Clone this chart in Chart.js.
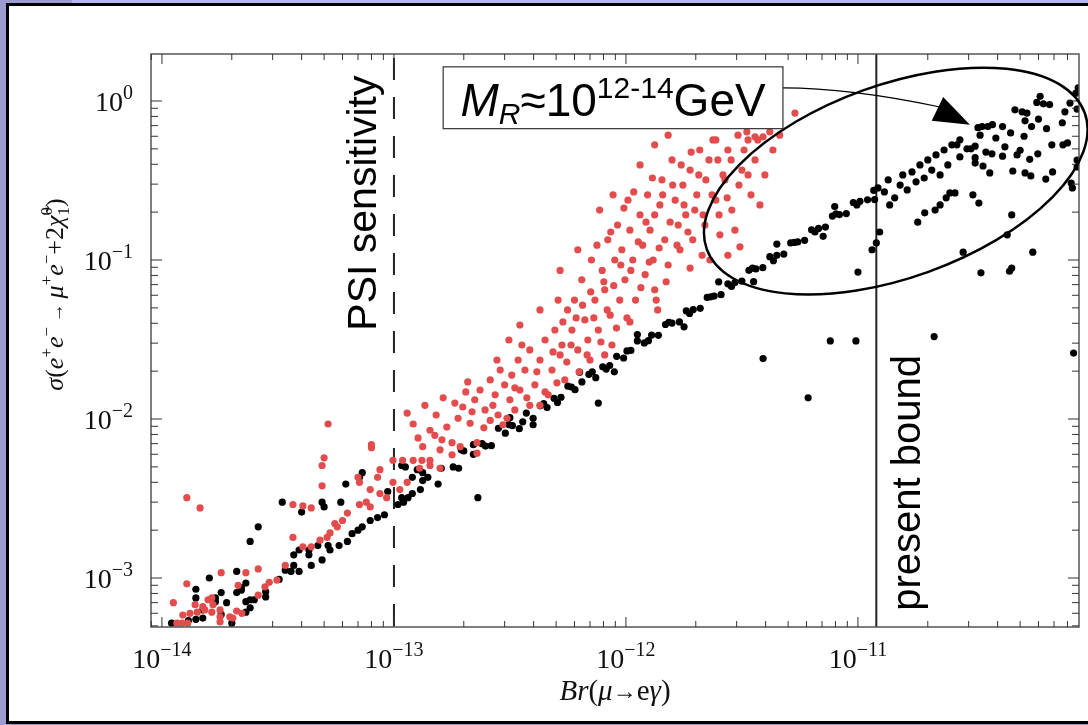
<!DOCTYPE html>
<html>
<head>
<meta charset="utf-8">
<script src="https://cdn.jsdelivr.net/npm/chart.js@4.4.0/dist/chart.umd.min.js"></script>
<style>
  body { margin: 0; width: 1088px; height: 725px; overflow: hidden; background: #9c9cd0; position: relative; }
  #strip { position: absolute; left: 72px; top: 0; width: 1016px; height: 4px; background: #b6b6f0; }
  #panel { position: absolute; left: 6px; top: 3px; width: 1100px; height: 715px; background: #fff; border: 3px solid #000; }
  #wrap { position: absolute; left: 0; top: 0; width: 1088px; height: 725px; }
</style>
</head>
<body>
<div id="strip"></div>
<div id="panel"></div>
<div id="wrap"><canvas id="myChart"></canvas></div>
<script>
// axis ranges and ticks
const brMin = 8.97e-15, brMax = 8.97e-11;
const sigmaMin = 4.92e-4, sigmaMax = 1.975;
const xDecades = [1e-14, 1e-13, 1e-12, 1e-11];
const xExponents = ['\u221214', '\u221213', '\u221212', '\u221211'];
const yDecades = [1, 0.1, 0.01, 0.001];
const yExponents = ['0', '\u22121', '\u22122', '\u22123'];

// vertical reference lines
const psiLimit = 1e-13;
const presentBound = 1.2e-11;

// black points [Br, sigma]
const blackPoints = [
  [2.4e-14,1.7e-3],[1.6e-14,1.0e-3],[2.1e-14,1.1e-3],[2.3e-14,9.3e-4],[1.4e-14,8.5e-4],[1.8e-14,8.1e-4],[2.2e-14,8.4e-4],
  [1.4e-14,7.5e-4],[1.7e-14,7.1e-4],[1.9e-14,7.0e-4],[2.3e-14,7.1e-4],[2.4e-14,7.3e-4],[2.4e-14,6.5e-4],[2.3e-14,6.1e-4],
  [1.5e-14,5.6e-4],[1.3e-14,5.4e-4],[1.1e-14,5.2e-4],[2.0e-14,5.2e-4],[1.8e-14,5.9e-4],[1.4e-14,5.5e-4],
  [3.3e-14,3.0e-3],[2.6e-14,2.1e-3],[4.0e-14,2.6e-3],[4.9e-14,3.0e-3],[5.0e-14,2.8e-3],[5.9e-14,3.0e-3],[6.2e-14,3.9e-3],
  [7.3e-14,4.6e-3],[7.1e-14,4.3e-3],[9.4e-14,3.5e-3],[9.1e-14,2.5e-3],[8.5e-14,2.4e-3],[7.9e-14,2.3e-3],[7.3e-14,2.1e-3],
  [7.0e-14,2.0e-3],[6.6e-14,1.9e-3],[6.3e-14,1.7e-3],[5.8e-14,1.6e-3],[5.3e-14,1.5e-3],[5.2e-14,1.6e-3],[4.7e-14,1.6e-3],
  [4.3e-14,1.5e-3],[4.3e-14,1.4e-3],[4.9e-14,1.3e-3],[4.4e-14,1.2e-3],[3.9e-14,1.5e-3],[3.7e-14,1.4e-3],[3.7e-14,1.2e-3],
  [3.9e-14,1.1e-3],[3.6e-14,1.1e-3],[3.4e-14,1.12e-3],[3.2e-14,9.8e-4],[2.8e-14,8.2e-4],[2.8e-14,7.6e-4],[2.5e-14,7.3e-4],
  [2.1e-14,8.1e-4],[2.2e-14,8.7e-4],[1.7e-14,7.5e-4],[1.5e-14,6.3e-4],
  [1.04e-13,2.9e-3],[1.1e-13,3.0e-3],[1.08e-13,3.2e-3],[1.15e-13,3.2e-3],[1.2e-13,3.4e-3],[1.3e-13,3.6e-3],[1.33e-13,4.1e-3],
  [1.4e-13,4.3e-3],[1.33e-13,4.6e-3],[1.2e-13,4.3e-3],[1.26e-13,4.8e-3],[1.55e-13,3.9e-3],[1.08e-13,5.1e-3],[1.12e-13,5.0e-3],
  [1.6e-13,4.9e-3],[1.8e-13,5.0e-3],[1.9e-13,4.9e-3],[2.0e-13,6.3e-3],[1.95e-13,6.4e-3],[2.2e-13,6.9e-3],[2.2e-13,6.0e-3],
  [2.3e-13,3.2e-3],
  [2.4e-13,7.0e-3],[2.63e-13,6.8e-3],[2.82e-13,8.75e-3],[3.02e-13,8.15e-3],[3.24e-13,9.1e-3],[3.47e-13,8.7e-3],[3.72e-13,1.09e-2],
  [3.98e-13,1.01e-2],[4.27e-13,1.21e-2],[4.57e-13,1.18e-2],[4.9e-13,1.35e-2],[5.25e-13,1.37e-2],[5.62e-13,1.61e-2],[6.03e-13,1.53e-2],
  [6.46e-13,1.71e-2],[6.92e-13,1.91e-2],[7.41e-13,1.82e-2],[7.94e-13,2.13e-2],[8.51e-13,2.17e-2],[9.12e-13,2.48e-2],[9.77e-13,2.42e-2],
  [1.05e-12,2.70e-2],[1.12e-12,3.10e-2],[1.20e-12,3.01e-2],[1.29e-12,3.37e-2],[1.38e-12,3.36e-2],[1.48e-12,3.93e-2],[1.58e-12,4.01e-2],
  [1.70e-12,4.08e-2],[1.82e-12,4.79e-2],[1.95e-12,4.88e-2],[2.09e-12,4.97e-2],[2.24e-12,5.82e-2],[2.40e-12,5.93e-2],[2.57e-12,6.05e-2],
  [2.75e-12,7.08e-2],[2.95e-12,7.21e-2],[3.16e-12,7.36e-2],[3.39e-12,8.61e-2],[3.63e-12,8.79e-2],[3.89e-12,8.95e-2],[4.17e-12,0.105],
  [4.47e-12,0.107],[4.79e-12,0.109],[5.13e-12,0.128],[5.50e-12,0.130],[5.89e-12,0.133],[6.31e-12,0.155],[6.76e-12,0.158],
  [7.24e-12,0.161],[7.76e-12,0.189],[8.32e-12,0.193],[8.91e-12,0.196],[9.55e-12,0.230],[1.02e-11,0.234],[1.10e-11,0.239],[1.17e-11,0.274],
  [3.16e-13,1.02e-2],[6.31e-13,1.97e-2],[1.12e-12,3.40e-2],[2.51e-12,7.28e-2],[4.47e-12,0.126],[7.94e-12,0.217],
  [3.98e-13,9.2e-3],[8.91e-13,1.98e-2],[1.78e-12,3.80e-2],[3.55e-12,7.31e-2],[7.08e-12,0.141],
  [2.48e-13,6.76e-3],[3.13e-13,9.23e-3],[3.59e-13,9.6e-3],[4.42e-13,1.25e-2],[5.07e-13,1.27e-2],[5.82e-13,1.59e-2],[7.16e-13,1.98e-2],
  [8.22e-13,2.06e-2],[1.01e-12,2.68e-2],[1.25e-12,3.11e-2],[1.53e-12,4.06e-2],[1.88e-12,4.61e-2],[2.32e-12,5.87e-2],[2.85e-12,6.82e-2],
  [3.51e-12,8.89e-2],[4.32e-12,9.89e-2],[5.31e-12,0.129],[6.53e-12,0.150],[8.04e-12,0.195],[9.89e-12,0.222],
  [7.6e-13,1.26e-2],[3.9e-12,2.4e-2],[6.1e-12,1.36e-2],[9.8e-12,3.1e-2],[7.6e-12,3.1e-2],[1.0e-11,8.4e-2],[1.2e-11,0.128],
  [1.24e-11,0.15],[1.15e-11,0.116],[2.13e-11,0.033],
  [1.18e-11,0.24],[1.22e-11,0.284],[1.3e-11,0.268],[1.35e-11,0.319],[1.37e-11,0.222],[1.44e-11,0.246],[1.52e-11,0.296],
  [1.56e-11,0.343],[1.63e-11,0.276],[1.71e-11,0.358],[1.78e-11,0.31],[1.85e-11,0.396],[1.93e-11,0.328],[2.0e-11,0.426],
  [2.08e-11,0.368],[2.17e-11,0.458],[2.26e-11,0.343],[2.35e-11,0.492],[2.44e-11,0.396],[2.54e-11,0.53],[2.15e-11,0.206],
  [1.94e-11,0.198],[1.81e-11,0.173],[2.26e-11,0.222],[2.4e-11,0.246],
  [6.1e-11,1.07],[5.9e-11,0.98],[6.3e-11,0.96],[6.7e-11,0.95],[4.75e-11,0.88],[5.1e-11,0.855],[5.35e-11,0.84],[5.25e-11,0.75],
  [6.0e-11,0.77],[5.6e-11,0.69],[6.5e-11,0.67],[7.6e-11,0.73],[7.8e-11,0.855],[8.2e-11,0.97],[8.8e-11,0.89],[8.9e-11,1.21],
  [8.7e-11,1.12],[3.43e-11,0.69],[3.63e-11,0.69],[3.8e-11,0.71],[4.2e-11,0.69],[3.29e-11,0.68],[3.36e-11,0.61],[4.55e-11,0.63],
  [3.93e-11,0.585],[5.2e-11,0.60],[2.75e-11,0.57],[2.67e-11,0.53],[2.95e-11,0.50],[3.07e-11,0.50],[3.2e-11,0.52],[3.56e-11,0.477],
  [3.78e-11,0.465],[4.3e-11,0.515],[4.2e-11,0.45],[5.0e-11,0.49],[4.85e-11,0.458],[5.5e-11,0.43],[5.96e-11,0.465],[6.85e-11,0.53],
  [7.65e-11,0.53],[8.0e-11,0.545],[2.75e-11,0.445],[3.2e-11,0.44],[3.2e-11,0.407],[3.46e-11,0.39],[3.7e-11,0.353],[4.65e-11,0.363],
  [5.25e-11,0.353],[5.56e-11,0.338],[6.45e-11,0.323],[6.9e-11,0.358],[8.3e-11,0.305],[8.4e-11,0.284],[8.8e-11,0.385],[8.8e-11,0.425],
  [2.62e-11,0.264],[2.49e-11,0.264],[3.13e-11,0.257],[3.32e-11,0.228],[4.6e-11,0.192],[4.4e-11,0.144],[2.84e-11,0.112],[5.67e-11,0.112],
  [3.39e-11,0.083],[4.5e-11,0.085],[4.6e-11,0.089],[8.5e-11,0.026]
];

// red points [Br, sigma]
const redPoints = [
  [1.8e-14,1.08e-3],[2.3e-14,1.08e-3],[2.6e-14,1.14e-3],[1.28e-14,9.2e-4],[2.13e-14,9.0e-4],[1.12e-14,7.0e-4],[1.39e-14,6.8e-4],
  [1.58e-14,7.3e-4],[1.64e-14,7.5e-4],[1.66e-14,6.8e-4],[1.53e-14,6.3e-4],[1.23e-14,5.85e-4],[1.32e-14,6.0e-4],[1.64e-14,6.1e-4],
  [1.78e-14,5.7e-4],[1.96e-14,5.7e-4],[2.1e-14,6.2e-4],[1.22e-14,5.2e-4],[1.29e-14,5.2e-4],[1.78e-14,5.3e-4],[2.21e-14,6.0e-4],
  [1.28e-14,3.2e-3],[1.46e-14,2.76e-3],[5.2e-14,9.3e-3],[8.0e-14,6.9e-3],[8.0e-14,6.6e-3],[5.0e-14,5.7e-3],[4.9e-14,5.1e-3],
  [4.9e-14,3.8e-3],[3.67e-14,2.9e-3],[4.05e-14,2.84e-3],[4.4e-14,2.76e-3],[7.0e-14,4.3e-3],[7.1e-14,4.0e-3],[7.9e-14,3.6e-3],
  [8.7e-14,3.4e-3],[8.7e-14,4.8e-3],[8.5e-14,4.3e-3],[7.6e-14,3.0e-3],[7.1e-14,2.9e-3],[7.9e-14,2.8e-3],[6.3e-14,2.56e-3],
  [6.0e-14,2.3e-3],[5.56e-14,2.2e-3],[5.3e-14,1.92e-3],[5.7e-14,2.1e-3],[5.15e-14,1.8e-3],[4.8e-14,1.73e-3],[4.4e-14,1.57e-3],
  [4.05e-14,1.57e-3],[3.67e-14,1.8e-3],[3.4e-14,1.2e-3],[3.13e-14,9.7e-4],[2.9e-14,9.4e-4],[2.78e-14,8.8e-4],[2.6e-14,7.8e-4],
  [2.02e-14,5.6e-4],[1.78e-14,6.3e-4],[1.42e-14,6.1e-4],[1.16e-14,5.2e-4],[1.5e-14,6.6e-4],
  [9.9e-14,5.5e-3],[1.14e-13,1.09e-2],[1.21e-13,9.3e-3],[1.33e-13,6.7e-3],[1.43e-13,8.5e-3],[1.5e-13,7.9e-3],[1.61e-13,7.4e-3],
  [1.63e-13,1.36e-2],[1.83e-13,1.26e-2],[1.98e-13,1.19e-2],[2.08e-13,1.71e-2],[1.58e-13,6.4e-3],[1.78e-13,7.1e-3],[1.93e-13,6.7e-3],
  [2.13e-13,9.4e-3],[2.28e-13,7.1e-3],[2.28e-13,6.1e-3],[1.43e-13,5.5e-3],[1.32e-13,5.5e-3],[1.21e-13,5.5e-3],[1.09e-13,5.5e-3],
  [1.29e-13,4.9e-3],[1.43e-13,5.1e-3],[1.58e-13,4.9e-3],[1.14e-13,4.0e-3],[9.9e-14,4.0e-3],[1.06e-13,3.6e-3],[9.3e-14,3.2e-3],
  [1.69e-13,8.9e-3],[2.04e-13,1.48e-2],[1.89e-13,1.01e-2],[2.17e-13,1.11e-2],[1.52e-13,1.06e-2],[1.36e-13,1.22e-2],[1.27e-13,7.6e-3],
  [1.78e-13,5.95e-3],
  [2.23e-13,1.32e-2],[2.35e-13,1.52e-2],[2.47e-13,1.14e-2],[2.6e-13,1.76e-2],[2.73e-13,1.42e-2],[2.87e-13,2.03e-2],[3.0e-13,1.64e-2],
  [3.16e-13,1.32e-2],[2.81e-13,1.06e-2],[3.22e-13,1.89e-2],[3.43e-13,2.35e-2],[3.49e-13,1.52e-2],[2.6e-13,9.8e-3],[2.95e-13,9.2e-3],
  [3.32e-13,1.14e-2],[3.56e-13,2.92e-2],[3.67e-13,2.03e-2],[3.85e-13,2.72e-2],[4.05e-13,1.64e-2],[4.26e-13,2.35e-2],[4.48e-13,3.14e-2],
  [4.62e-13,1.42e-2],[4.8e-13,2.03e-2],[4.94e-13,3.63e-2],[5.2e-13,2.53e-2],[5.45e-13,1.76e-2],[5.6e-13,4.85e-2],[4.26e-13,1.22e-2],
  [3.85e-13,1.22e-2],[5.1e-13,5.6e-2],[5.3e-13,2.92e-2],[5.85e-13,3.63e-2],[6.0e-13,5.6e-2],[6.2e-13,2.72e-2],[6.45e-13,7.5e-2],
  [6.65e-13,4.2e-2],[6.85e-13,3.14e-2],[7.1e-13,0.1],[7.35e-13,5.6e-2],[7.6e-13,3.63e-2],[7.9e-13,8.6e-2],[8.1e-13,6.5e-2],
  [8.35e-13,0.134],[8.55e-13,4.5e-2],[8.7e-13,2.92e-2],[8.95e-13,0.1],[9.2e-13,0.166],[9.4e-13,5.6e-2],[7.0e-13,2.35e-2],
  [8.1e-13,2.53e-2],[9.6e-13,0.116],[9.9e-13,7.5e-2],[1.02e-12,0.238],[1.04e-12,0.154],[1.07e-12,0.1],[1.10e-12,5.6e-2],
  [1.15e-12,0.192],[1.18e-12,0.124],[1.21e-12,8.1e-2],[1.24e-12,0.257],[1.27e-12,0.154],[1.31e-12,0.1],[1.35e-12,5.6e-2],
  [1.40e-12,0.222],[1.43e-12,0.319],[1.47e-12,0.134],[1.52e-12,9.3e-2],[1.37e-12,4.85e-2],[1.58e-12,0.426],[1.63e-12,0.238],
  [1.68e-12,0.166],[1.71e-12,0.116],[1.76e-12,0.296],[1.81e-12,0.192],[1.89e-12,0.368],[1.94e-12,0.134],[2.02e-12,0.257],
  [2.08e-12,0.492],[2.15e-12,0.192],[2.21e-12,0.319],[2.30e-12,0.1],[2.37e-12,0.569],[2.44e-12,0.238],[2.49e-12,0.426],
  [2.54e-12,0.144],[2.67e-12,0.319],[2.75e-12,0.492],[2.86e-12,0.206],[3.04e-12,0.61],[3.16e-12,0.368],[3.36e-12,0.569],
  [3.6e-12,0.426],[3.1e-12,0.121],[5.35e-12,0.84],[3.32e-12,0.64],[3.6e-12,0.595],[3.9e-12,0.595],[4.17e-12,0.64],
  [2.44e-13,8.8e-3],[2.67e-13,1.22e-2],[3.07e-13,1.01e-2],[3.74e-13,1.36e-2],[4.13e-13,1.98e-2],[4.48e-13,1.48e-2],[4.85e-13,2.64e-2],
  [5.04e-13,1.69e-2],[5.35e-13,4.08e-2],[5.56e-13,2.28e-2],[5.8e-13,2.92e-2],[6.1e-13,4.32e-2],[6.28e-13,1.98e-2],[6.5e-13,5.2e-2],
  [6.8e-13,2.53e-2],[7.05e-13,6.3e-2],[7.27e-13,4.32e-2],[7.5e-13,0.124],[7.8e-13,3.05e-2],[8.03e-13,7.3e-2],[8.3e-13,4.85e-2],
  [8.6e-13,0.15],[8.86e-13,6.9e-2],[9.1e-13,3.73e-2],[9.5e-13,9.3e-2],[9.8e-13,0.212],[1.01e-12,4.32e-2],[1.05e-12,8.6e-2],
  [1.08e-12,0.268],[1.13e-12,0.13],[1.16e-12,6.7e-2],[1.22e-12,0.173],[1.26e-12,9.7e-2],[1.30e-12,0.328],[1.33e-12,0.192],
  [1.39e-12,0.119],[1.44e-12,0.257],[1.49e-12,7.3e-2],[1.55e-12,0.173],[1.59e-12,0.296],[1.66e-12,0.124],[1.73e-12,0.396],
  [1.78e-12,0.222],[1.85e-12,0.15],[1.91e-12,0.477],[1.98e-12,0.206],[2.06e-12,0.343],[2.13e-12,0.107],[2.19e-12,0.166],
  [2.28e-12,0.426],[2.35e-12,0.257],[2.44e-12,0.569],[2.52e-12,0.192],[2.62e-12,0.343],[2.73e-12,0.246],[2.84e-12,0.426],
  [2.95e-12,0.154],[3.07e-12,0.296],[3.23e-12,0.492],[3.46e-12,0.257],[3.7e-12,0.569],[3.97e-12,0.343],[4.3e-12,0.492],
  [4.6e-12,0.61],[2.78e-13,2.35e-2],[3.13e-13,3.14e-2],[3.32e-13,1.57e-2],[3.49e-13,3.9e-2],[4.26e-13,4.85e-2],[5.2e-13,8.6e-2],
  [6.2e-13,0.116],[7.7e-13,0.206],[8.8e-13,0.257],[1.15e-12,0.396],[1.33e-12,0.53],[1.52e-12,0.61],[2.08e-12,0.71],
  [3.36e-12,0.343],[3.78e-12,0.222],[2.75e-12,0.107],[1.89e-12,8.9e-2],[1.33e-12,6.5e-2],[1.04e-12,4.08e-2]
];

// annotation anchors, in data units
const labelBox = [[1.63e-13, 1.64], [4.75e-12, 0.67]];
const labelBaseline = [9.2e-13, 0.81];
const arrowPath = [[4.75e-12, 1.21], [9.2e-12, 1.21], [2.26e-11, 0.917]];
const arrowHead = [[3.04e-11, 0.71], [2.33e-11, 1.06], [2.08e-11, 0.75]];
const ellipseEnds = [[2.23e-12, 0.117], [9.5e-11, 0.84]];
const ellipseRatio = 0.48;
const psiTextAt = [8.4e-14, 0.228];
const boundTextAt = [1.85e-11, 3.96e-3];

const serif = '"Liberation Serif", "Times New Roman", serif';
const sans = '"Liberation Sans", Arial, sans-serif';

function drawRuns(ctx, parts, x, y, align) {
  let w = 0;
  parts.forEach(p => { ctx.font = p.font; if (!p.stay) w += ctx.measureText(p.t).width; });
  let cx = align === 'center' ? x - w / 2 : align === 'right' ? x - w : x;
  parts.forEach(p => {
    ctx.font = p.font;
    ctx.fillText(p.t, cx, y + (p.dy || 0));
    if (!p.stay) cx += ctx.measureText(p.t).width;
  });
}

const annot = {
  id: 'annot',
  beforeDatasetsDraw(chart) {
    const { ctx, chartArea: a, scales: { x } } = chart;
    ctx.save();
    ctx.strokeStyle = '#222';
    ctx.lineWidth = 2;
    let px = x.getPixelForValue(psiLimit);
    ctx.setLineDash([22, 17]);
    ctx.lineDashOffset = -4;
    ctx.beginPath(); ctx.moveTo(px, a.top); ctx.lineTo(px, a.bottom); ctx.stroke();
    ctx.setLineDash([]);
    px = x.getPixelForValue(presentBound);
    ctx.beginPath(); ctx.moveTo(px, a.top); ctx.lineTo(px, a.bottom); ctx.stroke();
    ctx.restore();
  },
  afterDatasetsDraw(chart) {
    const { ctx, chartArea: a, scales: { x, y } } = chart;
    const P = d => [x.getPixelForValue(d[0]), y.getPixelForValue(d[1])];
    ctx.save();

    // frame
    ctx.strokeStyle = '#555';
    ctx.lineWidth = 1.5;
    ctx.strokeRect(a.left, a.top, a.right - a.left, a.bottom - a.top);

    // inward ticks on all sides
    ctx.lineWidth = 1;
    ctx.strokeStyle = '#333';
    ctx.beginPath();
    for (let e = -15; e <= -10; e++) {
      for (let m = 1; m <= 9; m++) {
        const v = m * Math.pow(10, e);
        if (v < brMin || v > brMax) continue;
        const px = x.getPixelForValue(v);
        const len = m === 1 ? 10 : 6;
        ctx.moveTo(px, a.bottom); ctx.lineTo(px, a.bottom - len);
        ctx.moveTo(px, a.top); ctx.lineTo(px, a.top + len);
      }
    }
    for (let e = -4; e <= 0; e++) {
      for (let m = 1; m <= 9; m++) {
        const v = m * Math.pow(10, e);
        if (v < sigmaMin || v > sigmaMax) continue;
        const py = y.getPixelForValue(v);
        const len = m === 1 ? 11 : 7;
        ctx.moveTo(a.left, py); ctx.lineTo(a.left + len, py);
        ctx.moveTo(a.right, py); ctx.lineTo(a.right - len, py);
      }
    }
    ctx.stroke();

    // tick labels
    ctx.fillStyle = '#111';
    ctx.textBaseline = 'alphabetic';
    ctx.textAlign = 'left';
    xDecades.forEach((v, i) => {
      drawRuns(ctx, [
        { t: '10', font: '28px ' + serif },
        { t: xExponents[i], font: '20px ' + serif, dy: -12 }
      ], x.getPixelForValue(v), a.bottom + 41, 'center');
    });
    yDecades.forEach((v, i) => {
      drawRuns(ctx, [
        { t: '10', font: '28px ' + serif },
        { t: yExponents[i], font: '20px ' + serif, dy: -12 }
      ], a.left - 18, y.getPixelForValue(v) + 10, 'right');
    });

    // axis titles
    const it = '29px ' + serif, itI = 'italic 29px ' + serif;
    drawRuns(ctx, [
      { t: 'Br', font: itI }, { t: '(', font: it }, { t: '\u03bc', font: itI },
      { t: '\u2192', font: '24px ' + serif, dy: -1 }, { t: 'e', font: it }, { t: '\u03b3', font: itI }, { t: ')', font: it }
    ], (a.left + a.right) / 2, a.bottom + 73, 'center');

    const yt = '26px ' + serif, ytI = 'italic 26px ' + serif, sup = '17px ' + serif;
    ctx.save();
    ctx.translate(a.left - 97, (a.top + a.bottom) / 2 - 46);
    ctx.rotate(-Math.PI / 2);
    drawRuns(ctx, [
      { t: '\u03c3', font: ytI }, { t: '(', font: yt }, { t: 'e', font: ytI }, { t: '+', font: sup, dy: -11 },
      { t: 'e', font: ytI }, { t: '\u2212', font: sup, dy: -11 }, { t: ' \u2192 ', font: '19px ' + serif },
      { t: '\u03bc', font: ytI }, { t: '+', font: sup, dy: -11 }, { t: 'e', font: ytI }, { t: '\u2212', font: sup, dy: -11 },
      { t: '+2', font: yt }, { t: '\u03c7\u0303', font: ytI }, { t: '0', font: sup, dy: -11, stay: true },
      { t: '1', font: sup, dy: 6 }, { t: ')', font: yt }
    ], 0, 9, 'center');
    ctx.restore();

    // ellipse
    const e1 = P(ellipseEnds[0]), e2 = P(ellipseEnds[1]);
    const ra = Math.hypot(e2[0] - e1[0], e2[1] - e1[1]) / 2;
    ctx.strokeStyle = '#000';
    ctx.lineWidth = 2.5;
    ctx.beginPath();
    ctx.ellipse((e1[0] + e2[0]) / 2, (e1[1] + e2[1]) / 2, ra, ra * ellipseRatio,
      Math.atan2(e2[1] - e1[1], e2[0] - e1[0]), 0, 2 * Math.PI);
    ctx.stroke();

    // arrow from label to ellipse
    const q0 = P(arrowPath[0]), q1 = P(arrowPath[1]), q2 = P(arrowPath[2]);
    ctx.lineWidth = 1.2;
    ctx.beginPath(); ctx.moveTo(q0[0], q0[1]); ctx.quadraticCurveTo(q1[0], q1[1], q2[0], q2[1]); ctx.stroke();
    const h = arrowHead.map(P);
    ctx.fillStyle = '#000';
    ctx.beginPath(); ctx.moveTo(h[0][0], h[0][1]); ctx.lineTo(h[1][0], h[1][1]); ctx.lineTo(h[2][0], h[2][1]); ctx.closePath(); ctx.fill();

    // label box
    const b1 = P(labelBox[0]), b2 = P(labelBox[1]);
    ctx.fillStyle = '#fff';
    ctx.fillRect(b1[0], b1[1], b2[0] - b1[0], b2[1] - b1[1]);
    ctx.strokeStyle = '#333';
    ctx.lineWidth = 1.2;
    ctx.strokeRect(b1[0], b1[1], b2[0] - b1[0], b2[1] - b1[1]);
    ctx.fillStyle = '#000';
    const lb = P(labelBaseline);
    drawRuns(ctx, [
      { t: 'M', font: 'italic 46px ' + sans }, { t: 'R', font: 'italic 30px ' + sans, dy: 8 },
      { t: '\u224810', font: '46px ' + sans }, { t: '12-14', font: '30px ' + sans, dy: -18 },
      { t: 'GeV', font: '46px ' + sans }
    ], (b1[0] + b2[0]) / 2, lb[1], 'center');

    // rotated labels
    ctx.textAlign = 'center';
    let t = P(psiTextAt);
    ctx.save(); ctx.translate(t[0], t[1]); ctx.rotate(-Math.PI / 2);
    ctx.font = '41px ' + sans; ctx.fillText('PSI sensitivity', 0, 0);
    ctx.restore();
    t = P(boundTextAt);
    ctx.save(); ctx.translate(t[0], t[1]); ctx.rotate(-Math.PI / 2);
    ctx.font = '40px ' + sans; ctx.fillText('present bound', 0, 0);
    ctx.restore();

    ctx.restore();
  }
};

const myChart = document.getElementById('myChart');

let scatterChart = new Chart(myChart, {
  type: 'scatter',
  data: {
    datasets: [
      {
        label: 'red',
        data: redPoints.map(p => ({ x: p[0], y: p[1] })),
        pointRadius: 3.6,
        pointBorderWidth: 0,
        backgroundColor: '#e24c4c'
      },
      {
        label: 'black',
        data: blackPoints.map(p => ({ x: p[0], y: p[1] })),
        pointRadius: 3.6,
        pointBorderWidth: 0,
        backgroundColor: '#000'
      }
    ]
  },
  options: {
    responsive: true,
    maintainAspectRatio: false,
    animation: false,
    events: [],
    layout: { padding: { left: 151, top: 54, right: 9, bottom: 98 } },
    plugins: { legend: { display: false }, tooltip: { enabled: false } },
    scales: {
      x: { type: 'logarithmic', min: brMin, max: brMax, display: false },
      y: { type: 'logarithmic', min: sigmaMin, max: sigmaMax, display: false }
    }
  },
  plugins: [annot]
});
</script>
</body>
</html>
